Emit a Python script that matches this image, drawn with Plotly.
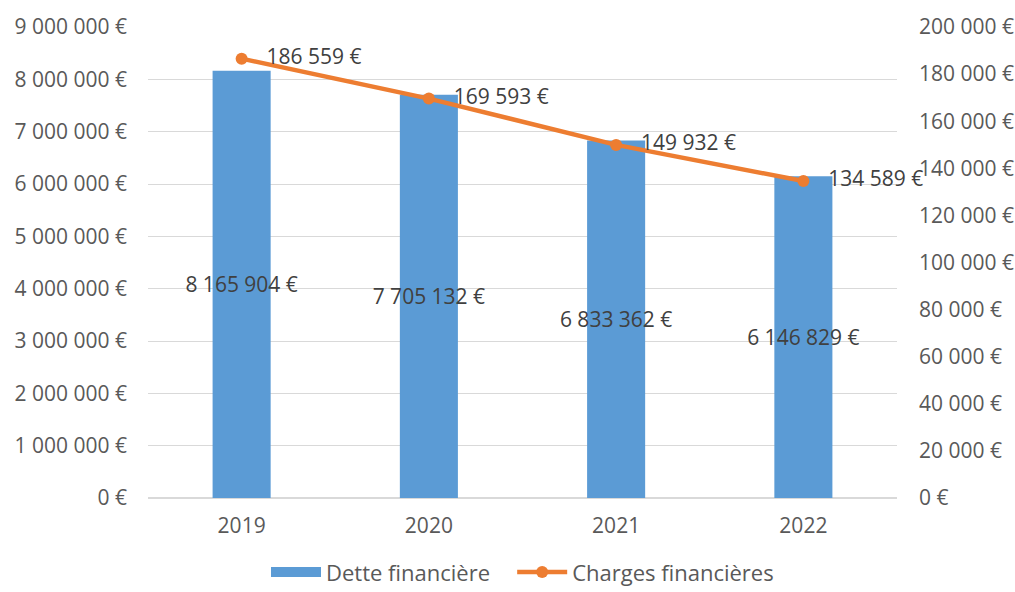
import plotly.graph_objects as go

years = ["2019", "2020", "2021", "2022"]
dette = [8165904, 7705132, 6833362, 6146829]
charges = [186559, 169593, 149932, 134589]

FONT = "Open Sans"
TXT = "#404040"
TICK = "#595959"
BLUE = "#5B9BD5"
ORANGE = "#ED7D31"
FS = 21

fig = go.Figure()
fig.add_trace(go.Bar(
    x=years, y=dette, name="Dette financière", showlegend=False,
    marker=dict(color=BLUE, line=dict(width=0)),
    width=0.31,
    texttemplate="%{y:,.0f} €", textposition="inside", textangle=0,
    insidetextanchor="middle", constraintext="none",
    textfont=dict(family=FONT, size=FS, color=TXT),
    insidetextfont=dict(family=FONT, size=FS, color=TXT),
    cliponaxis=False,
))
# legend swatch for the bars (wide rectangle like the reference)
fig.add_trace(go.Scatter(
    x=[None], y=[None], name="Dette financière\u00a0\u00a0\u00a0", mode="lines",
    line=dict(color=BLUE, width=11), hoverinfo="skip",
))
fig.add_trace(go.Scatter(
    x=years, y=charges, name="Charges financières", yaxis="y2",
    mode="lines+markers+text",
    line=dict(color=ORANGE, width=4.5),
    marker=dict(color=ORANGE, size=12),
    texttemplate="\u00a0\u00a0\u00a0%{y:,.0f} €", textposition="middle right",
    textfont=dict(family=FONT, size=FS, color=TXT),
    cliponaxis=False,
))

fig.update_layout(
    width=1015, height=592,
    margin=dict(l=148, r=118, t=27, b=94, autoexpand=False),
    paper_bgcolor="white", plot_bgcolor="white",
    separators=", ",
    font=dict(family=FONT, size=FS, color=TICK),
    bargap=0.69,
    showlegend=True,
    legend=dict(orientation="h", x=0.5, xanchor="center", y=-0.202, yanchor="bottom",
                font=dict(family=FONT, size=22, color=TICK), traceorder="normal",
                itemwidth=50, bgcolor="rgba(0,0,0,0)"),
    xaxis=dict(showgrid=False, showline=False, ticks="", ticklabelstandoff=13,
               tickfont=dict(family=FONT, size=FS, color=TICK)),
    yaxis=dict(range=[0, 9000000], dtick=1000000, tickformat=",.0f", ticksuffix=" €",
               gridcolor="#D9D9D9", gridwidth=1, zeroline=True, zerolinecolor="#D9D9D9",
               showline=False, ticks="", ticklabelstandoff=20,
               tickfont=dict(family=FONT, size=FS, color=TICK)),
    yaxis2=dict(range=[0, 200000], dtick=20000, tickformat=",.0f", ticksuffix=" €",
                overlaying="y", side="right", showgrid=False, zeroline=False,
                showline=False, ticks="", ticklabelstandoff=21,
                tickfont=dict(family=FONT, size=FS, color=TICK)),
)

fig.write_html("out.html", config={"displayModeBar": False},
               post_script="document.body.style.margin='0';")
